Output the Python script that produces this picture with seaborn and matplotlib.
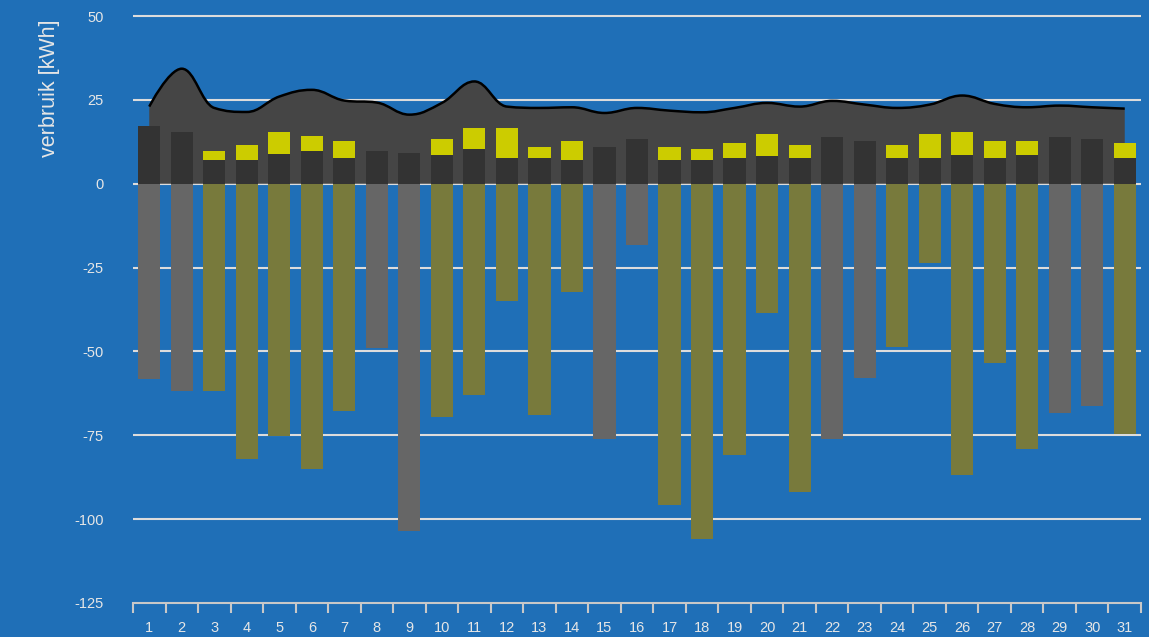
import numpy as np
import pandas as pd
import matplotlib
matplotlib.use("Agg")
import matplotlib.pyplot as plt
import seaborn as sns
from matplotlib.path import Path
from matplotlib.patches import PathPatch

# ---------------- data ----------------
days = [str(d) for d in range(1, 32)]
base_use = [17.1, 15.5, 7.2, 7.2, 8.9, 9.9, 7.7, 9.8, 9.2, 8.7, 10.4, 7.7, 7.7, 7.1, 11.0, 13.2,
            7.2, 7.1, 7.7, 8.3, 7.7, 13.8, 12.6, 7.7, 7.7, 8.7, 7.7, 8.7, 13.8, 13.2, 7.7]
extra_use = [0.0, 0.0, 2.6, 4.3, 6.5, 4.4, 4.9, 0.0, 0.0, 4.5, 6.2, 8.9, 3.3, 5.5, 0.0, 0.0,
             3.8, 3.3, 4.4, 6.6, 3.8, 0.0, 0.0, 3.8, 7.2, 6.7, 4.9, 3.9, 0.0, 0.0, 4.4]
production = [-58.1, -61.7, -61.7, -82.0, -75.1, -85.0, -67.7, -48.9, -103.5, -69.5, -62.9, -34.9,
              -68.9, -32.2, -76.0, -18.2, -95.7, -105.8, -80.8, -38.5, -91.8, -76.0, -57.8, -48.6,
              -23.6, -86.8, -53.4, -79.0, -68.3, -66.2, -74.5]
prod_kind = ["b" if e == 0 else "a" for e in extra_use]
total_line = [23.0, 34.3, 22.6, 21.4, 26.0, 28.0, 24.8, 24.2, 20.6, 24.1, 30.5, 23.0, 22.6, 22.8,
              21.1, 22.6, 21.8, 21.3, 22.6, 24.1, 23.0, 24.7, 23.6, 22.6, 23.6, 26.3, 23.8, 22.8,
              23.3, 22.8, 22.4]
yticks = [-125, -100, -75, -50, -25, 0, 25, 50]

# ---------------- style ----------------
BG = "#1f6fb7"
DARK = "#333333"
AREA = "#454545"
YELLOW = "#cccc00"
GRAY = "#666666"
OLIVE = "#787a3c"
TXT = "#e6e6e6"
GRID = "#dcdcdc"

sns.set_theme(style="white")
plt.rcParams['font.family'] = ['Liberation Sans', 'DejaVu Sans']

W, H = 1149, 637
fig = plt.figure(figsize=(W / 100, H / 100), dpi=100, facecolor=BG)
ax = fig.add_axes([133 / W, 1 - 603 / H, (1141 - 133) / W, (603 - 9) / H])
ax.set_facecolor(BG)

df = pd.DataFrame({"day": days, "base": base_use, "extra": extra_use,
                   "prod": production, "kind": prod_kind})
df["top"] = df["base"] + df["extra"]

BW = 0.68
# yellow (stacked top) first, dark base on top of it
sns.barplot(data=df, x="day", y="top", order=days, color=YELLOW, saturation=1,
            width=BW, errorbar=None, linewidth=0, ax=ax, zorder=4)
sns.barplot(data=df, x="day", y="base", order=days, color=DARK, saturation=1,
            width=BW, errorbar=None, linewidth=0, ax=ax, zorder=5)
sns.barplot(data=df, x="day", y="prod", order=days, hue="kind", hue_order=["a", "b"],
            palette={"a": OLIVE, "b": GRAY}, saturation=1, dodge=False, legend=False,
            width=BW, errorbar=None, linewidth=0, ax=ax, zorder=4)


# smooth area (spline) of total usage
def spline_path(xs, ys, sm=1.5):
    n = len(xs)
    den = sm + 1
    lc = [None] * n
    rc = [None] * n
    rc[0] = (xs[0], ys[0])
    lc[n - 1] = (xs[-1], ys[-1])
    for i in range(1, n - 1):
        px, py = xs[i], ys[i]
        lx, ly = xs[i - 1], ys[i - 1]
        nx, ny = xs[i + 1], ys[i + 1]
        lcx, lcy = (sm * px + lx) / den, (sm * py + ly) / den
        rcx, rcy = (sm * px + nx) / den, (sm * py + ny) / den
        if rcx != lcx:
            corr = ((rcy - lcy) * (rcx - px)) / (rcx - lcx) + py - rcy
            lcy += corr
            rcy += corr
        if lcy > max(ly, py):
            lcy = max(ly, py); rcy = 2 * py - lcy
        elif lcy < min(ly, py):
            lcy = min(ly, py); rcy = 2 * py - lcy
        if rcy > max(py, ny):
            rcy = max(py, ny); lcy = 2 * py - rcy
        elif rcy < min(py, ny):
            rcy = min(py, ny); lcy = 2 * py - rcy
        lc[i] = (lcx, lcy)
        rc[i] = (rcx, rcy)
    verts = [(xs[0], ys[0])]
    codes = [Path.MOVETO]
    for i in range(1, n):
        verts += [rc[i - 1], lc[i], (xs[i], ys[i])]
        codes += [Path.CURVE4] * 3
    return verts, codes


xs = list(range(len(days)))
v, c = spline_path(xs, total_line)
fill_v = v + [(xs[-1], 0), (xs[0], 0), (xs[0], total_line[0])]
fill_c = c + [Path.LINETO, Path.LINETO, Path.CLOSEPOLY]
ax.add_patch(PathPatch(Path(fill_v, fill_c), facecolor=AREA, edgecolor="none", zorder=2))
ax.add_patch(PathPatch(Path(v, c), facecolor="none", edgecolor="black", lw=1.8, zorder=3,
                       capstyle="butt", joinstyle="round"))

# ---------------- axes ----------------
ax.set_xlim(-0.5, len(days) - 0.5)
ax.set_ylim(-125, 52.1)
ax.set_yticks(yticks)
ax.set_yticklabels([str(t) for t in yticks])
for t in yticks[1:]:
    ax.axhline(t, color=GRID, lw=1.5, zorder=1)

ax.set_xticks(xs)
ax.set_xticklabels(days)
ax.set_xticks(np.arange(-0.5, len(days), 1.0), minor=True)
ax.tick_params(axis="x", which="major", bottom=True, length=0, pad=13, labelsize=10.5,
               labelcolor=TXT)
ax.tick_params(axis="x", which="minor", bottom=True, length=7.5, width=1.5, color="#c8c8c8",
               direction="out")
ax.tick_params(axis="y", length=0, pad=21, labelsize=10.5, labelcolor=TXT)

for s in ["top", "right", "left"]:
    ax.spines[s].set_visible(False)
ax.spines["bottom"].set_color("#c8c8c8")
ax.spines["bottom"].set_linewidth(1.5)
ax.spines["bottom"].set_zorder(6)

ax.set_xlabel("")
ax.set_ylabel("verbruik [kWh]", color=TXT, fontsize=15.5)
ax.yaxis.set_label_coords(-0.072, 0.866)

fig.savefig("out.png", dpi=100, facecolor=BG)
